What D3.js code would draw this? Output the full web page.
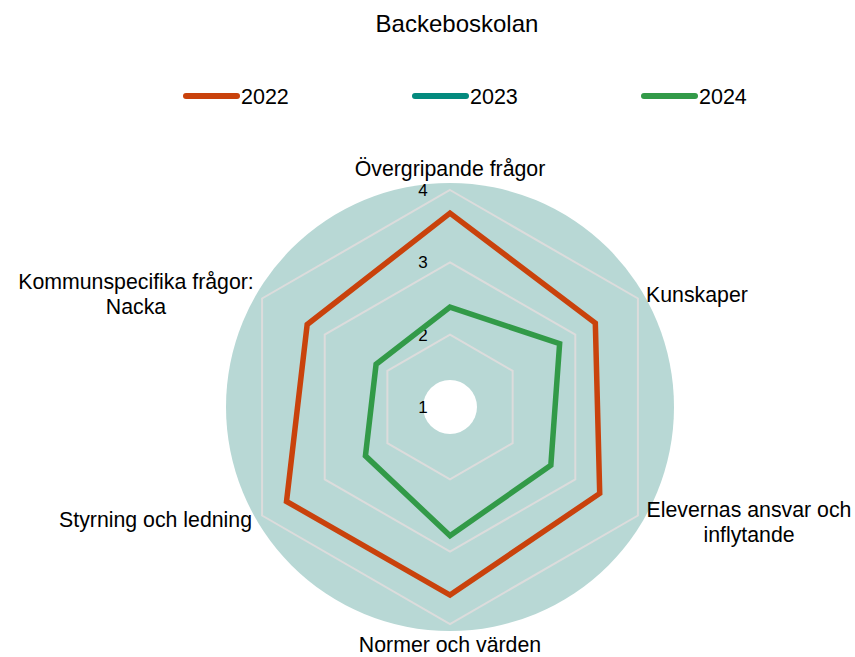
<!DOCTYPE html>
<html><head><meta charset="utf-8">
<script src="https://cdn.jsdelivr.net/npm/d3@7"></script>
<style>html,body{margin:0;padding:0;background:#fff;}svg{display:block;font-family:"Liberation Sans",Arial,sans-serif;}</style>
</head><body>
<script>
const title = "Backeboskolan";
const categories = [["Övergripande frågor"],["Kunskaper"],["Elevernas ansvar och","inflytande"],["Normer och värden"],["Styrning och ledning"],["Kommunspecifika frågor:","Nacka"]];
const seriesNames = ["2022","2023","2024"];
const values2022 = [3.68, 3.32, 3.39, 3.60, 3.61, 3.28];
const values2023 = [];
const values2024 = [2.38, 2.75, 2.61, 2.78, 2.35, 2.18];
const tickValues = [1,2,3,4];
const colors = ["#C9420C","#038A7E","#329A48"];

const W=855,H=657, cx=450, cy=407;
const svg=d3.select("body").append("svg").attr("width",W).attr("height",H);
const r=d3.scaleLinear().domain([1,4]).range([0,217]);
const ang=d3.scaleLinear().domain([0,categories.length]).range([-Math.PI/2,1.5*Math.PI]);
const pt=(i,v)=>[cx+r(v)*Math.cos(ang(i)), cy+r(v)*Math.sin(ang(i))];

svg.append("text").attr("x",457).attr("y",32).attr("text-anchor","middle").attr("font-size",24).attr("fill","#000").text(title);

// background
svg.append("circle").attr("cx",cx).attr("cy",cy).attr("r",224).attr("fill","#B8D8D5");
svg.append("circle").attr("cx",cx).attr("cy",cy).attr("r",27).attr("fill","#fff");

// grid
const line=d3.line();
tickValues.slice(1).forEach(t=>{
  const pts=categories.map((c,i)=>pt(i,t));
  svg.append("path").attr("d",line(pts)+"Z").attr("fill","none").attr("stroke","#DCDCDC").attr("stroke-width",2);
});

// ticks labels
svg.selectAll(".tick").data(tickValues).enter().append("text")
  .attr("x",cx-27).attr("y",d=>cy-r(d)+6).attr("text-anchor","middle").attr("font-size",17).attr("fill","#000").text(d=>d);

// series
const allSeries=[values2022,values2023,values2024];
allSeries.forEach((vals,k)=>{
  if(!vals.length) return;
  const pts=vals.map((v,i)=>pt(i,v));
  svg.append("path").attr("d",line(pts)+"Z").attr("fill","none").attr("stroke",colors[k]).attr("stroke-width",5.5).attr("stroke-linejoin","miter");
});

// category labels
const labelPos=[
  {x:450,y:176,a:"middle"},
  {x:646,y:302,a:"start"},
  {x:749,y:517,a:"middle"},
  {x:450,y:652,a:"middle"},
  {x:252,y:527,a:"end"},
  {x:136,y:289,a:"middle"}
];
categories.forEach((c,i)=>{
  const t=svg.append("text").attr("x",labelPos[i].x).attr("y",labelPos[i].y).attr("text-anchor",labelPos[i].a).attr("font-size",21.3).attr("fill","#000");
  c.forEach((s,j)=>t.append("tspan").attr("x",labelPos[i].x).attr("dy",j?24.5:0).text(s));
});

// legend
const lg=svg.selectAll(".lg").data(seriesNames).enter().append("g").attr("transform",(d,i)=>`translate(${186+i*229},96)`);
lg.append("line").attr("x1",0).attr("x2",51).attr("y1",0).attr("y2",0).attr("stroke",(d,i)=>colors[i]).attr("stroke-width",6).attr("stroke-linecap","round");
lg.append("text").attr("x",55).attr("y",7.5).attr("font-size",21.5).attr("fill","#000").text(d=>d);
</script>
</body></html>
